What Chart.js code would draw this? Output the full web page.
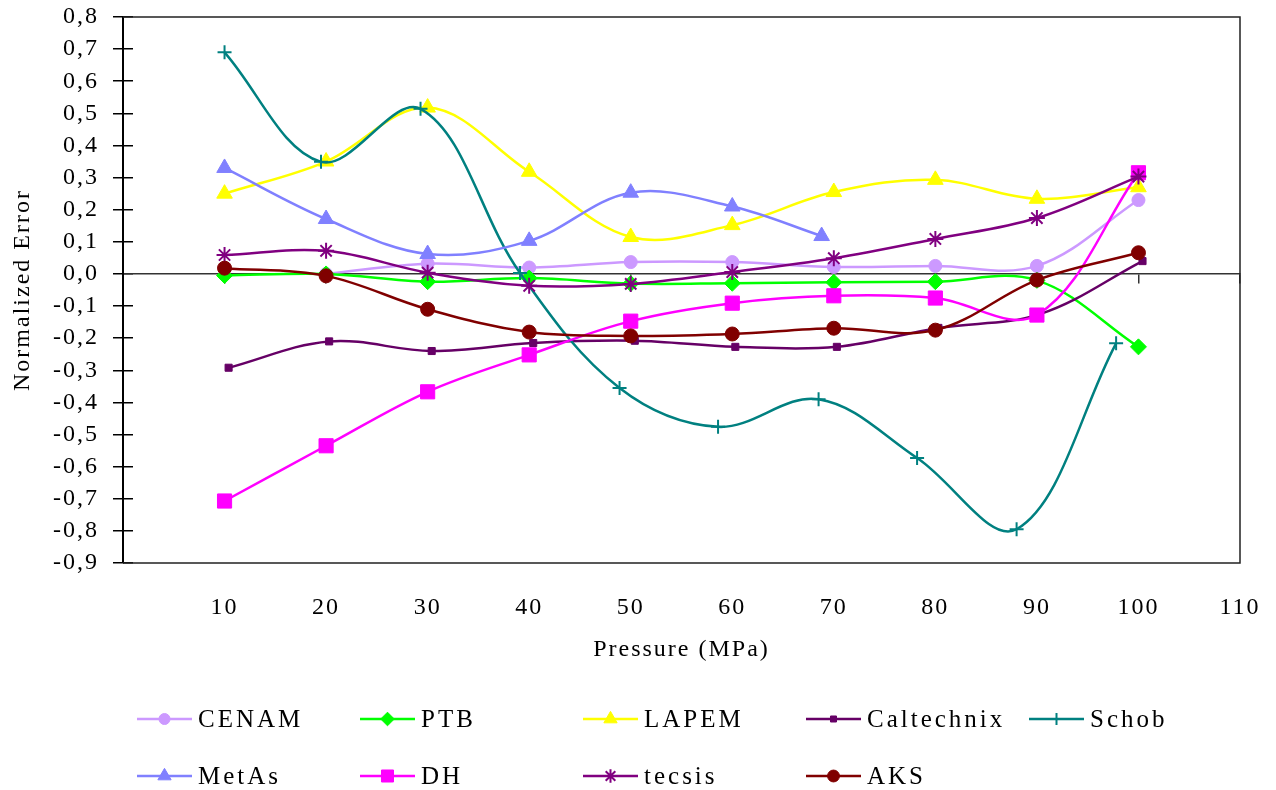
<!DOCTYPE html>
<html><head><meta charset="utf-8">
<script src="https://cdn.jsdelivr.net/npm/chart.js@4.4.1/dist/chart.umd.min.js"></script>
<style>html,body{margin:0;padding:0;background:#fff;} canvas{display:block;}</style>
</head><body>
<canvas id="c" width="1276" height="790"></canvas>
<script>
// ---- data ----
const seriesNames = ['CENAM','PTB','LAPEM','Caltechnix','Schob','MetAs','DH','tecsis','AKS'];
const pressure    = [10,20,30,40,50,60,70,80,90,100];
const cenamP      = [20,30,40,50,60,70,80,90,100];
const cenam       = [0.000,0.032,0.020,0.037,0.037,0.022,0.025,0.025,0.230];
const ptb         = [-0.005,0.000,-0.024,-0.013,-0.030,-0.029,-0.026,-0.024,-0.020,-0.227];
const lapem       = [0.250,0.350,0.518,0.318,0.115,0.152,0.255,0.293,0.234,0.270];
const caltechnixP = [10.4,20.3,30.4,40.4,50.4,60.3,70.3,80.3,90.3,100.4];
const caltechnix  = [-0.292,-0.210,-0.240,-0.215,-0.208,-0.227,-0.227,-0.168,-0.125,0.040];
const schobP      = [10.0,19.5,29.3,39.1,48.9,58.6,68.5,78.2,88.0,97.8];
const schob       = [0.690,0.349,0.514,0.003,-0.355,-0.476,-0.390,-0.573,-0.795,-0.216];
const metasP      = [10,20,30,40,50,60,68.8];
const metas       = [0.330,0.171,0.062,0.103,0.253,0.210,0.118];
const dh          = [-0.707,-0.535,-0.367,-0.252,-0.147,-0.091,-0.068,-0.075,-0.128,0.315];
const tecsis      = [0.059,0.072,0.004,-0.037,-0.031,0.006,0.049,0.109,0.174,0.303];
const aks         = [0.018,-0.006,-0.110,-0.181,-0.193,-0.187,-0.169,-0.175,-0.019,0.066];
const yMin = -0.9, yMax = 0.8, yStep = 0.1;
const xMin = 0, xMax = 110, xStep = 10;

// ---- styles ----
const FONT = 'Liberation Serif, "Times New Roman", serif';
const pts = (xs, ys) => xs.map((x, i) => ({x: x, y: ys[i]}));
const seriesData = [
  pts(cenamP, cenam), pts(pressure, ptb), pts(pressure, lapem),
  pts(caltechnixP, caltechnix), pts(schobP, schob), pts(metasP, metas),
  pts(pressure, dh), pts(pressure, tecsis), pts(pressure, aks)
];
const styles = [
  {c:'#CC99FF', s:'circle',   r:6.5, bw:1},
  {c:'#00FF00', s:'rectRot',  r:8,   bw:1},
  {c:'#FFFF00', s:'triangle', r:9,   bw:1},
  {c:'#660066', s:'rect',     r:5,   bw:1},
  {c:'#008080', s:'cross',    r:7,   bw:2},
  {c:'#8080FF', s:'triangle', r:9,   bw:1},
  {c:'#FF00FF', s:'rect',     r:10,  bw:1},
  {c:'#800080', s:'star',     r:8,   bw:2},
  {c:'#800000', s:'circle',   r:7,   bw:1}
];

const datasets = seriesNames.map((name, i) => ({
  label: name,
  data: seriesData[i],
  xAxisID: 'x', yAxisID: 'y',
  borderColor: styles[i].c,
  backgroundColor: styles[i].c,
  borderWidth: 2.5,
  pointStyle: styles[i].s,
  pointRadius: styles[i].r,
  pointBorderWidth: styles[i].bw,
  pointBackgroundColor: styles[i].c,
  pointBorderColor: styles[i].c,
  tension: 0.36,
  fill: false,
  order: seriesNames.length - i
}));

const fmtY = v => { let r = Math.round(v * 10) / 10; if (Math.abs(r) < 1e-9) r = 0; return r.toFixed(1).replace('.', ','); };

const spacingPlugin = {
  id: 'spacing',
  beforeDraw(chart) { chart.ctx.letterSpacing = '2px'; }
};

const framePlugin = {
  id: 'frame',
  beforeDatasetsDraw(chart) {
    const a = chart.chartArea, ctx = chart.ctx;
    ctx.save();
    ctx.strokeStyle = '#222';
    ctx.lineWidth = 1.5;
    ctx.beginPath();
    ctx.moveTo(a.left, a.top); ctx.lineTo(a.right, a.top);
    ctx.lineTo(a.right, a.bottom); ctx.lineTo(a.left, a.bottom);
    ctx.stroke();
    ctx.restore();
  }
};

const legendPlugin = {
  id: 'customLegend',
  afterDraw(chart) {
    const ctx = chart.ctx;
    const colX = [137, 360, 583, 806, 1029];
    const rowY = [719, 776];
    ctx.save();
    ctx.font = '25px ' + FONT;
    ctx.letterSpacing = '3px';
    ctx.textBaseline = 'middle';
    ctx.textAlign = 'left';
    chart.data.datasets.forEach((ds, i) => {
      const col = i < 5 ? i : i - 5;
      const row = i < 5 ? 0 : 1;
      const x = colX[col], y = rowY[row];
      ctx.strokeStyle = ds.borderColor;
      ctx.lineWidth = 2.5;
      ctx.beginPath(); ctx.moveTo(x, y); ctx.lineTo(x + 55, y); ctx.stroke();
      ctx.fillStyle = ds.pointBackgroundColor;
      ctx.strokeStyle = ds.pointBorderColor;
      ctx.lineWidth = ds.pointBorderWidth;
      Chart.helpers.drawPoint(ctx, {pointStyle: ds.pointStyle, radius: ds.pointRadius * 0.85, rotation: 0, borderWidth: ds.pointBorderWidth}, x + 27.5, y);
      ctx.fillStyle = '#000';
      ctx.fillText(ds.label, x + 61, y + 1);
    });
    ctx.restore();
  }
};

new Chart(document.getElementById('c'), {
  type: 'line',
  data: { datasets: datasets },
  plugins: [spacingPlugin, framePlugin, legendPlugin],
  options: {
    responsive: false,
    animation: false,
    devicePixelRatio: 1,
    layout: { padding: {left: 0, top: 17, right: 36, bottom: 0} },
    plugins: { legend: {display: false}, tooltip: {enabled: false} },
    scales: {
      x: {
        type: 'linear', position: 'bottom', min: xMin, max: xMax,
        ticks: { stepSize: xStep, autoSkip: false, color: '#000', font: {family: FONT, size: 24}, padding: 30, maxRotation: 0,
                 callback: v => v === 0 ? '' : String(v) },
        grid: { display: false, drawTicks: false },
        border: { display: false },
        title: { display: true, text: 'Pressure (MPa)', color: '#000', font: {family: FONT, size: 24}, padding: {top: 0, bottom: 126} },
        afterFit: s => { s.height = 227; s.paddingLeft = 0; s.paddingRight = 0; }
      },
      x2: {
        type: 'linear', axis: 'x', position: {y: 0}, min: xMin, max: xMax,
        ticks: { stepSize: xStep, display: false },
        grid: { drawOnChartArea: false, drawTicks: true, tickLength: 9, color: '#333', lineWidth: 1.5 },
        border: { display: true, color: '#333', width: 1.5 }
      },
      y: {
        type: 'linear', position: 'left', min: yMin, max: yMax,
        ticks: { stepSize: yStep, autoSkip: false, color: '#000', font: {family: FONT, size: 24}, padding: 14, callback: fmtY },
        grid: { drawOnChartArea: false, drawTicks: true, tickLength: 10, color: '#000', lineWidth: 1.5 },
        border: { display: true, color: '#000', width: 2 },
        title: { display: true, text: 'Normalized Error', color: '#000', font: {family: FONT, size: 24}, padding: {top: 8, bottom: 0} },
        afterFit: s => { s.width = 123; s.paddingTop = 0; s.paddingBottom = 0; }
      },
      y2: {
        type: 'linear', axis: 'y', position: {x: 0}, min: yMin, max: yMax,
        ticks: { stepSize: yStep, display: false },
        grid: { drawOnChartArea: false, drawTicks: true, tickLength: -10, color: '#000', lineWidth: 1.5 },
        border: { display: false },
        afterFit: s => { s.paddingTop = 0; s.paddingBottom = 0; }
      }
    }
  }
});
</script>
</body></html>
